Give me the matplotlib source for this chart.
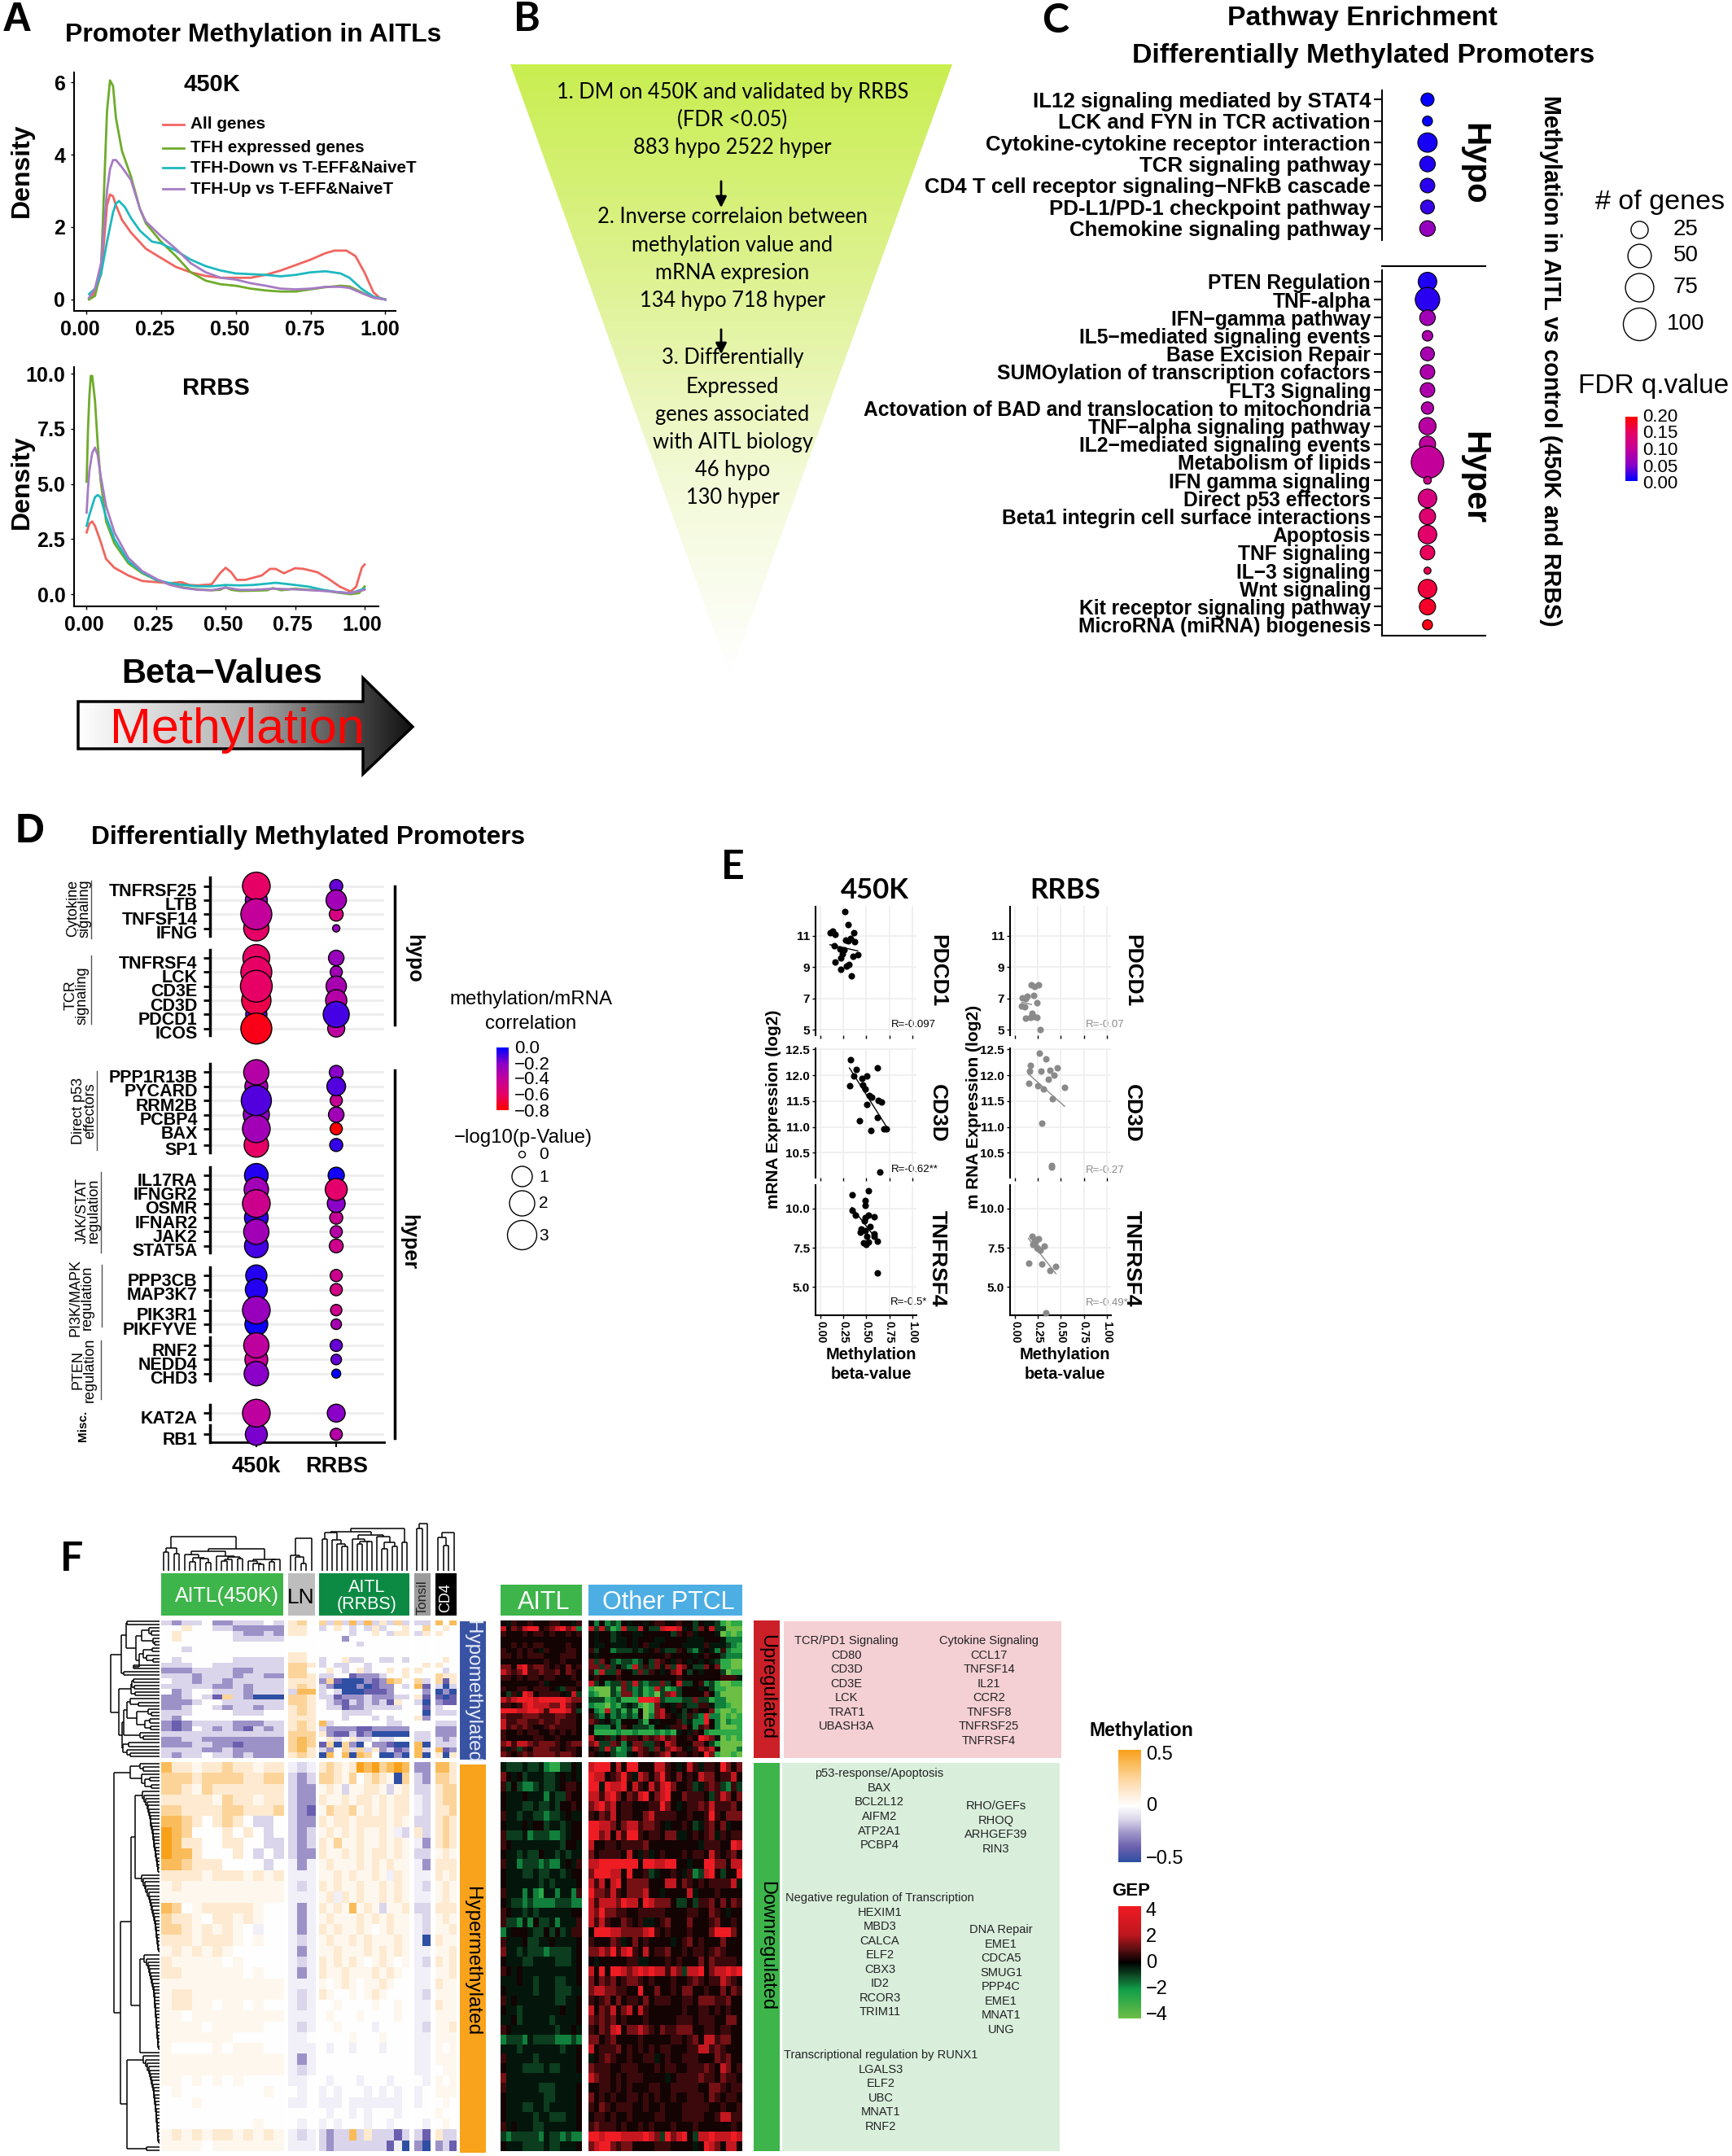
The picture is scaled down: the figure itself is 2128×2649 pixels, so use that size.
import numpy as np
import matplotlib
matplotlib.use("Agg")
import matplotlib.pyplot as plt
from matplotlib.colors import LinearSegmentedColormap
from matplotlib.patches import Polygon, Rectangle
from matplotlib.transforms import ScaledTranslation

W, H = 2128, 2649
ARIAL = ['Liberation Sans', 'DejaVu Sans']
LATO = ['Lato', 'DejaVu Sans']

# ---- panel A, density curves
a1_x_red = [.01,.03,.05,.06,.07,.08,.09,.10,.12,.15,.20,.25,.30,.35,.40,.45,.50,.55,.60,.65,.70,.75,.80,.83,.87,.90,.93,.96,.98,1]
a1_red = [.02,.2,.7,1.6,2.6,2.9,2.85,2.6,2.2,1.85,1.4,1.15,.9,.75,.65,.6,.6,.6,.68,.8,.95,1.1,1.28,1.35,1.35,1.2,.75,.2,.05,0]
a1_x_green = [.01,.03,.05,.06,.07,.08,.09,.10,.12,.15,.18,.20,.25,.30,.35,.40,.45,.50,.55,.60,.65,.70,.75,.80,.85,.88,.92,.96,1]
a1_green = [0,.1,.8,3,5.2,6.05,5.9,5,4.1,3.4,2.5,2.1,1.6,1.2,.75,.52,.42,.38,.3,.25,.22,.22,.28,.34,.38,.36,.2,.05,0]
a1_x_teal = [.01,.03,.05,.07,.09,.10,.11,.13,.15,.18,.22,.25,.30,.35,.40,.45,.50,.55,.60,.65,.70,.75,.80,.85,.88,.92,.96,1]
a1_teal = [.15,.3,.7,1.6,2.4,2.65,2.72,2.55,2.25,1.9,1.6,1.55,1.35,1.1,.92,.8,.72,.7,.68,.64,.68,.75,.78,.72,.6,.3,.08,0]
a1_x_purple = [.01,.03,.05,.06,.07,.08,.09,.10,.12,.15,.18,.20,.25,.30,.35,.40,.45,.50,.55,.60,.65,.70,.75,.80,.85,.88,.92,.96,1]
a1_purple = [.05,.3,1,2,3,3.6,3.85,3.85,3.65,3.3,2.5,2.15,1.75,1.4,1,.75,.6,.55,.45,.38,.3,.28,.3,.35,.35,.32,.18,.05,0]

a2_x_red = [0,.01,.02,.03,.05,.07,.10,.15,.20,.25,.30,.34,.37,.40,.45,.48,.50,.52,.54,.57,.60,.63,.66,.68,.71,.75,.78,.83,.87,.91,.95,.97,.99,1]
a2_red = [2.8,3.2,3.3,3.1,2.4,1.6,1.2,.85,.6,.55,.5,.55,.42,.4,.45,.95,1.2,1,.65,.65,.75,.85,1.15,1.15,.95,1.18,1.15,1,.7,.35,.12,.35,1.2,1.35]
a2_x_green = [0,.005,.01,.015,.02,.03,.04,.05,.07,.10,.15,.20,.25,.30,.35,.40,.45,.48,.50,.52,.55,.60,.65,.67,.70,.75,.80,.85,.90,.95,.98,1]
a2_green = [5.1,7.5,9,9.9,9.9,8.8,6.8,5.2,3.3,2.3,1.4,.95,.65,.45,.3,.22,.18,.2,.32,.2,.15,.16,.18,.28,.18,.25,.2,.18,.08,0,.05,.35]
a2_x_teal = [0,.01,.02,.03,.04,.05,.07,.10,.15,.20,.25,.30,.35,.40,.45,.50,.55,.60,.65,.68,.75,.80,.85,.90,.95,1]
a2_teal = [3.1,3.6,4,4.4,4.5,4.4,3.5,2.5,1.5,1,.65,.5,.42,.36,.36,.42,.4,.42,.48,.52,.42,.34,.2,.1,.05,.25]
a2_x_purple = [0,.005,.01,.02,.03,.04,.05,.07,.10,.15,.20,.25,.30,.35,.40,.45,.50,.55,.60,.67,.75,.85,.95,1]
a2_purple = [3.7,4.8,5.6,6.4,6.65,6.3,5.4,4,2.8,1.65,1.05,.7,.42,.28,.2,.18,.3,.2,.2,.25,.22,.15,.05,.2]
a_names = ['All genes', 'TFH expressed genes', 'TFH-Down vs T-EFF&NaiveT', 'TFH-Up vs T-EFF&NaiveT']
a_colors = ['#F0655F', '#6FAB2B', '#1DB9BF', '#A67BC4']

# ---- panel B, funnel text
b_lines = ['1. DM on 450K and validated by RRBS', '(FDR <0.05)', '883 hypo 2522 hyper',
           '2. Inverse correlaion between', 'methylation value and', 'mRNA expresion', '134 hypo 718 hyper',
           '3. Differentially', 'Expressed', 'genes associated', 'with AITL biology', '46 hypo', '130 hyper']
b_line_y = [113, 147, 181, 267, 301, 335, 370, 440, 475, 509, 543, 577, 611]

# ---- panel C, pathway bubbles
c_hypo = ['IL12 signaling mediated by STAT4', 'LCK and FYN in TCR activation', 'Cytokine-cytokine receptor interaction',
          'TCR signaling pathway', 'CD4 T cell receptor signaling\u2212NFkB cascade', 'PD-L1/PD-1 checkpoint pathway',
          'Chemokine signaling pathway']
c_hypo_genes = [13, 6, 33, 20, 17, 15, 20]
c_hypo_fdr = [.002, .003, .008, .012, .016, .02, .06]
c_hyper = ['PTEN Regulation', 'TNF-alpha', 'IFN\u2212gamma pathway', 'IL5\u2212mediated signaling events', 'Base Excision Repair',
           'SUMOylation of transcription cofactors', 'FLT3 Signaling', 'Actovation of BAD and translocation to mitochondria',
           'TNF\u2212alpha signaling pathway', 'IL2\u2212mediated signaling events', 'Metabolism of lipids', 'IFN gamma signaling',
           'Direct p53 effectors', 'Beta1 integrin cell surface interactions', 'Apoptosis', 'TNF signaling', 'IL\u22123 signaling',
           'Wnt signaling', 'Kit receptor signaling pathway', 'MicroRNA (miRNA) biogenesis']
c_hyper_genes = [30, 55, 20, 7, 15, 17, 17, 11, 25, 22, 100, 2, 30, 22, 30, 17, 1, 30, 22, 6]
c_hyper_fdr = [.012, .015, .07, .08, .075, .08, .08, .085, .09, .095, .10, .11, .125, .14, .145, .155, .16, .17, .18, .19]

# ---- panel D, gene bubbles
d_genes = ['TNFRSF25', 'LTB', 'TNFSF14', 'IFNG', 'TNFRSF4', 'LCK', 'CD3E', 'CD3D', 'PDCD1', 'ICOS',
           'PPP1R13B', 'PYCARD', 'RRM2B', 'PCBP4', 'BAX', 'SP1', 'IL17RA', 'IFNGR2', 'OSMR', 'IFNAR2', 'JAK2', 'STAT5A',
           'PPP3CB', 'MAP3K7', 'PIK3R1', 'PIKFYVE', 'RNF2', 'NEDD4', 'CHD3', 'KAT2A', 'RB1']
d_450k_p = [2.6,1.33,3.4,2,2.4,3.4,3.6,3,1.17,3.4,2,1.5,3.2,2.2,2.6,1.83,1.67,1.83,2.6,1.67,2,1.67,1.17,1.33,2.6,1.5,2,1.5,1.83,2.6,1.33]
d_450k_r = [-.6,-.25,-.4,-.6,-.6,-.6,-.6,-.65,-.15,-.75,-.35,-.3,-.12,-.22,-.28,-.6,-.05,-.28,-.45,-.07,-.28,-.1,-.05,-.05,-.25,-.02,-.38,-.42,-.2,-.38,-.18]
d_rrbs_p = [.47,1,.53,.06,.65,.41,1,1.17,2.2,.76,.53,.88,.41,.65,.41,.47,.7,1.33,.82,.47,.41,.53,.41,.41,.35,.29,.41,.29,.18,.82,.41]
d_rrbs_r = [-.15,-.28,-.5,-.25,-.25,-.28,-.3,-.35,-.1,-.38,-.2,-.12,-.42,-.28,-.8,-.08,-.03,-.58,-.2,-.42,-.35,-.45,-.45,-.48,-.45,-.3,-.15,-.15,0,-.2,-.35]
d_rows = [0,1,2,3,5.1,6.1,7.1,8.1,9.1,10.1,13.2,14.2,15.2,16.2,17.2,18.35,20.5,21.5,22.5,23.5,24.5,25.5,27.6,28.6,30.05,31.05,32.55,33.55,34.55,37.35,38.85]

# ---- panel E, scatter points
e1_x = [.269,.297,.104,.130,.158,.367,.272,.326,.304,.373,.149,.209,.256,.411,.351,.241,.222,.158,.310,.285,.225,.335]
e1_y = [12.52,11.72,11.18,11.28,11.07,11.18,10.70,10.84,10.65,10.61,10.38,10.15,10.10,9.78,9.68,9.85,9.57,9.34,9.18,9.06,8.83,8.42]
e2_x = [.326,.392,.361,.320,.620,.503,.456,.465,.484,.532,.563,.627,.668,.506,.620,.424,.554,.696,.722,.646]
e2_y = [12.30,12.11,11.98,11.79,12.14,11.99,11.94,11.81,11.74,11.61,11.57,11.52,11.49,11.43,11.18,11.12,10.93,10.96,10.96,10.13]
e3_x = [.345,.525,.487,.491,.342,.380,.484,.519,.589,.475,.538,.443,.437,.491,.585,.585,.506,.468,.494,.522,.623,.620]
e3_y = [10.89,11.15,10.53,10.21,9.90,9.59,9.43,9.57,9.47,9.23,8.83,8.71,8.49,8.59,8.40,8.23,8.23,7.80,7.73,7.85,7.92,5.89]
e4_x = [.174,.212,.253,.079,.133,.117,.203,.073,.108,.237,.117,.171,.190,.206,.241,.272]
e4_y = [7.84,7.77,7.84,7.03,7.12,6.98,7.21,6.54,6.47,6.72,5.73,5.80,6.05,5.85,5.80,5.02]
e5_x = [.266,.335,.168,.158,.285,.380,.462,.424,.361,.146,.244,.307,.544,.408,.288,.402,.402]
e5_y = [12.42,12.32,12.19,12.08,12.08,12.09,12.15,12.0,11.93,11.84,11.80,11.74,11.76,11.55,11.07,10.26,10.23]
e6_x = [.190,.253,.218,.196,.237,.272,.323,.146,.291,.383,.443,.339,.231,.212,.250]
e6_y = [8.23,8.09,7.85,7.73,7.51,7.32,7.58,6.53,6.46,6.05,6.32,3.35,8.04,7.97,7.44]
e_fit_x = [[.104,.405], [.316,.722], [.342,.627], [.076,.18], [.149,.541], [.146,.446]]
e_fit_y = [[10.42,10.03], [12.14,11.0], [10.07,7.92], [6.75,6.61], [12.02,11.40], [8.09,5.84]]
e_r = ['R=-0.097', 'R=-0.62**', 'R=-0.5*', 'R=-0.07', 'R=-0.27', 'R=-0.49*']

# ---- panel F, methylation heat map (levels read by eye, c/l are faint cream/lavender)
hypo_450k = ["323342233343","445443322222","454444432232","454444433333","444444444444","443444444444","444444444444",
             "434444433333","333443333333","222333322333","333233323322","433233233333","333332232333","423443332333",
             "223431632000","222344333333","223443233233","333444433344","324444444444","212333322233","212432321323",
             "333333333333","223322222222","222332212222","333322322222","323343323222"]
hypo_lnode = ["564","554","554","444","444","444","554","554","665","664","665","555","565","377","665","665","565","565",
              "555","565","565","666","676","676","675","565"]
hypo_rrbs = ["636373735363","345434353445","444434454355","444244444444","444443444444","444444444444","444444444444",
             "344533443343","343344344444","454345344545","334412223445","261000212764","320002012243","343000111244",
             "331222322233","432132323154","433122333334","444333344444","444344434344","734444444334","322221122222",
             "521131200000","453453343344","160620422100","324636352312","074707640020"]
hypo_tonsil = ["33","46","35","44","44","44","44","44","45","54","44","63","71","42","51","30","41","40","52","44","44","33","33","70","73","70"]
hypo_cd4 = ["747","454","544","444","444","444","444","454","544","434","655","615","303","020","101","211","344","333","444","333","222","222","323","333","712","505"]

hyper_450k = ["755c55655c55","666566665566","665c65555555","55555c655c55","665555665556","776545654334","876444545434",
              "875544554433","877544454343","776555444434","5555c555c5c5","c5cccccccccc","cccccccccccc","764c55555c44",
              "655c455c5c44","665c5c5c4l44","555c555c4c44","c5c5c5c44444","5ccccc4c4444","55cccccc4c44","cccccccccccc",
              "c55ccccccccc","c55cc4cc4c44","cc4ccccccccc","cccc4ccccc44","ccccccc44444","c4444c4ccc44","cccccccccccc",
              "cccccccccccc","cc4c4c4c4444","4c44444444c4","444c44444444","444444444444","444444444c44","c5c5c55c5c5c",
              "cccc4ccccccc"]
hyper_lnode = ["l3l","323","322","322","321","322","323","323","322","l2l","lll","l3l","lll","l2l","l2l","l2l","l3l","l2l",
               "l3l","l2l","lll","l3l","l3l","lll","l3l","ll4","lll","l2l","l3l","ll4","4l4","ll4","444","4l4","l3l","lll"]
hyper_rrbs = ["565c58786787","665c64565c06","c5c3cc55c3c5","5cc5c55c5c55","c6556c5c5c55","5c55c5555c5c","c5c5c5cc5cl3",
              "5c6cc5cc5c5c","5cc5c5c55c5c","c5ccc5c5c5cc","cc5c5cc5cl5c","5c5cc5cc5c5c","c5l5c5cc5c5c","5c5c7c5c3cc5",
              "c5ccc5c5c5cc","5c5cc5c4c5cc","c5cc5c5ccc5c","cc5ccc5c5c5c","5c5c5c4c5c4c","5cc5ccc5c5c4","c4c5c4cc5c44",
              "5c44c4c5c444","44c4444c44c4","4c444c4444c4","44c4444l4444","4444c444c444","4l44l444l444","444444444444",
              "444444444444","4l444l444l44","l4l444l4l4l4","lll4lllllll4","4l44l4l444l4","l4l444l44l44","323373533313",
              "3233333331l0"]
hyper_tonsil = ["22","32","33","l3","l3","33","53","l2","33","l2","ll","l3","ll","33","l3","l3","l0","ll","l3","ll","ll","l3",
                "ll","ll","l3","ll","ll","ll","ll","4l","l4","l4","44","4l","31","20"]
hyper_cd4 = ["775","665","566","566","556","565","565","565","c5c","555","5c5","c5c","c5c","555","c5c","cc5","5cc","cc5",
             "5c5","cc5","5cc","ccc","5cc","ccc","cc5","ccc","c4c","ccc","4cc","c4c","ccc","4c4","c44","4c4","533","231"]

# ---- panel F, expression heat map (levels 0 green ... 9 red)
gep_up_aitl = ["546556555665546","857689956789782","655565665655656","555555555555555","556565665555655","655656546555665",
               "665656665556665","555555556556555","775896776565756","876796676675765","665656656655565","555555564555556",
               "655665666543665","536498566665483","878999899999877","665689888779765","999889986999863","766677766677665",
               "866776676676665","867676556766665","655656655656565","655555665565555","786887677765677","646365777665665",
               "765676777767765"]
gep_up_ptcl = ["5252325455456655655354431011","8383128338533899845375833000","5455345544555553656455540101",
               "5455344545554455554445554222","5445444545644555544446444321","6355233343456433653245426211",
               "5455555555555565555456553222","7375323323537654654545431100","7737353283637473875337571100",
               "6283375537365457853545553011","5655565555555555655555556664","8352337383233735833562310011",
               "1000317323128312355545311000","2100327723120378355557520000","3331231119998322233733122000",
               "2110213431017454643366422100","5218231315017854535655710010","6324232325027865436329220101",
               "7645325553154555634229520211","5222426533325546675267520001","5111121121112121454652111111",
               "8546357665767867556598740101","7833762477336587555775310000","5638312387637478754687850002",
               "6545322457656785665659710010"]
gep_dn_aitl = ["433343342113354","754534443345454","635322343345665","544454442433655","544433433435565","644344332334544",
               "544454553443455","633342333223455","654444444443554","544343354434344","644233323224546","544433433443455",
               "544444434344445","644424214424426","543323222233322","654434344444455","633242533424446","245554335353466",
               "644453344544445","744343332333345","544433444433345","654544444444445","444544344433445","544444344433344",
               "645444444433445","544344444445445","445344444344445","654444444434454","233324333322232","444344444443445",
               "644444344444445","544433334334445","744444444444444","644444433344445","544444443344445","544433443444445",
               "544444344333445","645444334444445","323333324332322","544433334334445"]
gep_dn_ptcl = ["8999585995558865458646659757","9885679648757965756587756685","9949889586586897556346763263",
               "8868975768957895576665368757","7897856655566975456676866675","6576856655786666556556965777",
               "9988757886776545565346757455","9978586996566577445656746566","8556656666755555555546665598",
               "7566665854645655565665865675","8899999995998899554559977588","7999885955634556546238953559",
               "8685895777755588576565666684","9776865777855455558455565555","8688879885987775335366757576",
               "8797766556666655556655765455","8686557656445675557555675565","5999887777896565556555799975",
               "6555764575655554567565557555","7787968965856675565665676555","5455555664455565655575766665",
               "8595998789898868738895788989","7576756776565556556765668765","7887766559557556577556557576",
               "6567575665756665566577766755","8576857858655555565566565655","7676756555655555666566655775",
               "6576895778765766777556656655","7756755556555556656758867755","8566675656565665556688676555",
               "4567655655664565566655576755","7666556665556566556667658756","8766565666555545666676657665",
               "5566565655566556666655776566","7565655665656556556665765665","6576566655655655566666556556",
               "5665655655556655566665568866","6766656556565556555655555565","9989998888987397895388988898",
               "7899767755556665555459875885"]

# dendrogram merge heights, in pixels above the heat map
den_450k = [42, [28, [23, 0, 0], [21, 0, 0]],
            [27, [24, [20, 0, [16, [11, 0, 0], [15, 0, [10, 0, 0]]]], [18, 0, [17, [14, [12, 0, 0], 0], [15, 0, 0]]]],
             [14, [12, 0, [9, 0, [8, 0, 0]]], [14, [11, 0, 0], 0]]]]
den_lnode = [40, [19, 0, [17, 0, [9, 0, 0]]], 0]
den_rrbs = [52, [48, [47, [39, 0, 0], [38, 0, [33, 0, [30, 0, 0]]]],
                 [44, [39, 0, [36, [33, 0, 0], [36, 0, 0]]], [42, 0, [35, [27, 0, 0], [30, 0, 0]]]]], [35, 0, 0]]
den_tonsil = [58, [52, 0, 0], 0]
den_cd4 = [47, [41, 0, [31, 0, 0]], 0]
den_hypo = [60, [47, [41, [40, 0, 0], [29, [22, [13, 0, [10, 0, 0]], [8, 0, [6, 0, 0]]],
                                        [25, [20, [9, 0, 0], [16, 0, [8, 0, 0]]], [32, 0, 0]]]], [44, 0, 0]],
            [50, [35, [34, [32, 0, 0], [31, 0, 0]], [30, 0, 0]],
             [46, [44, [40, [36, 0, [26, 0, 0]], [28, [14, 0, [10, 0, 0]], [18, [12, 0, 0], [11, 0, 0]]]], [24, 0, [20, 0, 0]]],
              [45, [38, 0, 0], [40, 0, [36, 0, 0]]]]]]
den_hyper_chain1 = [2, 2, 3, 3, 4, 5, 5, 6, 7, 7, 8, 8, 9, 10, 11, 11, 12, 13, 14, 15, 17, 19, 21]
den_hyper_chain2 = [1, 2, 2, 3, 3, 4, 4, 5, 5, 6, 7, 8, 9, 10, 11, 12, 13, 15, 17, 18, 20, 22]
den_hyper_chain3 = [1, 2, 2, 2, 3, 3, 3, 4, 4, 4, 5, 5, 5, 6, 6, 6, 7, 7, 8, 9, 10, 11, 12, 13, 14, 16, 19]
den_hyper_chain4 = [1, 2, 2, 2, 3, 3, 3, 4, 4, 4, 5, 5, 6, 6, 7, 7, 8, 9, 10, 11, 12, 13, 15, 17, 20]


def chain(heights):
    node = 0
    for h in heights:
        node = [h, 0, node]
    return node


den_hyper = [56, [36, [24, 0, [20, 0, 0]], [22, 0, [18, [12, 0, 0], [10, 0, 0]]]],
             [48, [35, [30, chain(den_hyper_chain1), chain(den_hyper_chain2)], [24, chain(den_hyper_chain3), 0]],
              [40, chain(den_hyper_chain4), [16, 0, 0]]]]

# ---- layout helpers
fig = plt.figure(figsize=(W / 100, H / 100), dpi=100, facecolor='white')
bg = fig.add_axes([0, 0, 1, 1])
bg.axis('off')


def axpx(l, t, r, b):
    return fig.add_axes([l / W, 1 - b / H, (r - l) / W, (b - t) / H], facecolor='none')


def txt(x, y, s, size, bold=False, fam=ARIAL, rot=0, color='black', ha='center', **kw):
    return bg.text(x, y, s, fontsize=size, fontweight='bold' if bold else 'normal', family=fam, rotation=rot,
                   color=color, ha=ha, va='center', **kw)


def shift_labels(labels, dx=0, dy=0):
    for lb in labels:
        lb.set_transform(lb.get_transform() + ScaledTranslation(dx / 100, -dy / 100, fig.dpi_scale_trans))


def px_area(d):
    return (np.asarray(d) * 0.72) ** 2


cmap_fdr = LinearSegmentedColormap.from_list('fdr', ['#0000FF', '#8A00C8', '#C4009A', '#E60066', '#FF0000'])
cmap_meth = LinearSegmentedColormap.from_list('meth', ['#2E4FA3', '#6A5FAE', '#9C92C8', '#DAD5EA', '#FFFFFF',
                                                       '#FEEBD2', '#FDD59C', '#FBBD5C', '#F9A01B'])
cmap_gep = LinearSegmentedColormap.from_list('gep', [(0, '#6CBE45'), (.25, '#12A04A'), (.38, '#0E4A25'), (.5, '#000000'),
                                                     (.62, '#5E0F12'), (.75, '#C0171F'), (1, '#F01C24')])

for x, y, s, fam in [(21, 25, 'A', ARIAL), (647, 24, 'B', LATO), (1297, 26, 'C', LATO), (37, 1022, 'D', ARIAL),
                     (900, 1065, 'E', LATO), (88, 1915, 'F', LATO)]:
    txt(x, y, s, 36, True, fam)

# ---- panel A
txt(311, 43, 'Promoter Methylation in AITLs', 23, True)


def density_axes(box, xlim, ylim, yticks, ylabels, dx):
    ax = axpx(*box)
    ax.set_xlim(*xlim)
    ax.set_ylim(*ylim)
    for s in ['top', 'right']:
        ax.spines[s].set_visible(False)
    for s in ['left', 'bottom']:
        ax.spines[s].set_linewidth(1.5)
    ax.set_xticks([0, .25, .5, .75, 1])
    ax.set_xticklabels(['0.00', '0.25', '0.50', '0.75', '1.00'], fontsize=18, fontweight='bold', family=ARIAL)
    ax.set_yticks(yticks)
    ax.set_yticklabels(ylabels, fontsize=18, fontweight='bold', family=ARIAL)
    ax.tick_params(length=3, width=1, pad=5)
    shift_labels(ax.get_xticklabels(), dx=dx)
    return ax


ax = density_axes((91.4, 89, 486, 382), (-.039, 1.034), (-.315, 6.27), [0, 2, 4, 6], ['0', '2', '4', '6'], -7)
for xs, ys, c in zip([a1_x_red, a1_x_green, a1_x_teal, a1_x_purple], [a1_red, a1_green, a1_teal, a1_purple], a_colors):
    ax.plot(xs, ys, color=c, lw=2)

ax = density_axes((91.4, 451, 465, 745), (-.044, 1.05), (-.55, 10.3), [0, 2.5, 5, 7.5, 10],
                  ['0.0', '2.5', '5.0', '7.5', '10.0'], -3)
for xs, ys, c in zip([a2_x_red, a2_x_green, a2_x_teal, a2_x_purple], [a2_red, a2_green, a2_teal, a2_purple], a_colors):
    ax.plot(xs, ys, color=c, lw=2)

txt(27, 209, 'Density', 23, True, rot=90)
txt(27, 592, 'Density', 23, True, rot=90)
txt(260, 104, '450K', 21, True)
txt(265, 477, 'RRBS', 21, True)
for yy, name, c in zip([153, 181.6, 206, 232], a_names, a_colors):
    bg.plot([200, 226], [yy, yy], color=c, lw=2)
    txt(234, yy, name, 14.9, True, ha='left')

txt(273, 828, 'Beta\u2212Values', 30, True)
arrow_pts = [(96, 862), (446, 862), (446, 833), (507, 893), (446, 951), (446, 920), (96, 920)]
im = bg.imshow(np.linspace(0, 1, 256).reshape(1, -1), extent=[96, 507, 951, 833], aspect='auto', zorder=1,
               cmap=LinearSegmentedColormap.from_list('arw', ['#FFFFFF', '#B0B0B0', '#111111']))
poly = Polygon(arrow_pts, closed=True, facecolor='none', edgecolor='black', lw=2.5, zorder=2, transform=bg.transData)
bg.add_patch(poly)
im.set_clip_path(poly)
txt(291, 897, 'Methylation', 44, color='#FF0000', zorder=3)

# ---- panel B
tri = Polygon([(627, 79), (1170, 79), (897, 830)], closed=True, facecolor='none', edgecolor='none', transform=bg.transData)
bg.add_patch(tri)
im = bg.imshow(np.linspace(0, 1, 256).reshape(-1, 1), extent=[627, 1170, 830, 79], aspect='auto', origin='upper', zorder=1,
               cmap=LinearSegmentedColormap.from_list('tri', ['#C9EE50', '#DDF28F', '#F2F9D5', '#FFFFFF']))
im.set_clip_path(tri)
for yy, s in zip(b_line_y, b_lines):
    txt(900, yy, s, 18.4, fam=LATO, zorder=3)
for y0, y1 in [(220, 258), (402, 438)]:
    bg.annotate('', xy=(886, y1), xytext=(886, y0), zorder=3,
                arrowprops=dict(arrowstyle='-|>', color='black', lw=2, mutation_scale=20))

# ---- panel C
txt(1674, 23, 'Pathway Enrichment', 24.3, True)
txt(1675, 69, 'Differentially Methylated Promoters', 24.3, True)


def gene_d(n):
    return np.sqrt(60 + 15.4 * np.asarray(n, float))


def pathway_axes(box, ylim, names, genes, fdr, size):
    ax = axpx(*box)
    ypos = np.arange(len(names))
    ax.set_xlim(0, 1)
    ax.set_ylim(*ylim)
    ax.set_xticks([])
    ax.set_yticks(ypos)
    ax.set_yticklabels(names, fontsize=size, fontweight='bold', family=ARIAL)
    ax.tick_params(length=7, width=1.5, pad=3)
    for s in ['top', 'right', 'bottom']:
        ax.spines[s].set_visible(False)
    ax.spines['left'].set_linewidth(1.5)
    ax.scatter(np.full(len(names), .44), ypos, s=px_area(gene_d(genes)), c=fdr, cmap=cmap_fdr, vmin=0, vmax=.2,
               edgecolors='black', linewidths=.8, clip_on=False, zorder=3)
    return ax


pathway_axes((1698, 111, 1825, 295), (6.54, -.43), c_hypo, c_hypo_genes, c_hypo_fdr, 18.6)
ax = pathway_axes((1698, 332, 1825, 781), (19.6, -.63), c_hyper, c_hyper_genes, c_hyper_fdr, 17.7)
ax.spines['bottom'].set_visible(True)
ax.spines['bottom'].set_linewidth(1.5)
bg.plot([1698, 1825], [327, 327], color='black', lw=1.5)

txt(1811, 201, 'Hypo', 29, True, rot=-90)
txt(1811, 587, 'Hyper', 29, True, rot=-90)
txt(1905, 443, 'Methylation in AITL vs control (450K and RRBS)', 20.7, True, rot=-90)

txt(2040, 249, '# of genes', 24.5)
for yy, n, lab in zip([282, 314, 353, 398], [25, 50, 75, 100], ['25', '50', '75', '100']):
    bg.scatter([2014], [yy], s=px_area(gene_d(n)), facecolors='white', edgecolors='black', linewidths=1, zorder=3)
    txt(2071, yy, lab, 20)
txt(2032, 474, 'FDR q.value', 24)
bg.imshow(np.linspace(1, 0, 128).reshape(-1, 1), extent=[1997, 2012, 591, 512], aspect='auto', cmap=cmap_fdr, zorder=2)
for yy, lab in zip([513, 533, 553.6, 574, 594], ['0.20', '0.15', '0.10', '0.05', '0.00']):
    txt(2018, yy, lab, 16, ha='left')

# ---- panel D
txt(378, 1029, 'Differentially Methylated Promoters', 22.8, True)
ax = axpx(258, 1078, 472, 1772)
ax.set_xlim(-.58, 1.6)
ax.set_ylim(39.41, -.61)
ax.set_xticks([0, 1])
ax.set_xticklabels(['450k', 'RRBS'], fontsize=19.5, fontweight='bold', family=ARIAL)
ax.set_yticks(d_rows)
ax.set_yticklabels(d_genes, fontsize=15.5, fontweight='bold', family=ARIAL)
ax.tick_params(axis='y', length=6, width=2, pad=5)
ax.tick_params(axis='x', length=4, width=1.5, pad=8)
shift_labels(ax.get_yticklabels(), dy=4.5)
for s in ['top', 'right', 'left']:
    ax.spines[s].set_visible(False)
ax.spines['bottom'].set_linewidth(2)
ax.hlines(d_rows, -.58, 1.6, color='#EDEDED', lw=2, zorder=1)
for y0, y1 in [(-.59, 3.53), (4.53, 10.56), (12.6, 18.9), (19.9, 26), (27, 29.1), (29.4, 31.56), (31.97, 35), (36.75, 37.8), (38.2, 39.41)]:
    ax.plot([-.58, -.58], [y0, y1], color='black', lw=2.5, clip_on=False, zorder=4)


def p_d(p):
    return np.interp(p, [0, 1, 2, 3, 4], [8, 25, 31, 36, 41])


for col, ps, rs in [(0, d_450k_p, d_450k_r), (1, d_rrbs_p, d_rrbs_r)]:
    order = np.argsort(ps)
    ax.scatter(np.full(len(order), col), np.array(d_rows)[order], s=px_area(p_d(np.array(ps)[order])),
               c=-np.array(rs)[order] / .8, cmap=cmap_fdr, vmin=0, vmax=1, edgecolors='black', linewidths=1,
               zorder=3, clip_on=False)

for x_line, y0, y1, x_t, y_t, s in [(112, 1082, 1153, 97, 1116, 'Cytokine\nsignaling'), (112, 1174, 1258, 94, 1223, 'TCR\nsignaling'),
                                    (119, 1316, 1413, 104, 1365, 'Direct p53\neffectors'), (124, 1440, 1539, 108, 1487, 'JAK/STAT\nregulation'),
                                    (125, 1554, 1630, 100, 1594, 'PI3K/MAPK\nregulation'), (124, 1647, 1719, 103, 1683, 'PTEN\nregulation')]:
    bg.plot([x_line, x_line], [y0, y1], color='#555555', lw=1)
    txt(x_t, y_t, s, 13, rot=90, linespacing=.8)
txt(102, 1752, 'Misc.', 11, True, rot=90)
bg.plot([485, 485], [1089, 1259], color='black', lw=2.5)
bg.plot([485, 485], [1315, 1767], color='black', lw=2.5)
txt(508, 1178, 'hypo', 18, True, rot=-90)
txt(502, 1526, 'hyper', 18, True, rot=-90)

txt(652, 1228, 'methylation/mRNA', 17.3)
txt(652, 1258, 'correlation', 17.3)
bg.imshow(np.linspace(0, 1, 128).reshape(-1, 1), extent=[610, 625, 1364, 1287], aspect='auto', cmap=cmap_fdr, zorder=2)
for yy, lab in zip([1289, 1308, 1327, 1347, 1366], ['0.0', '\u22120.2', '\u22120.4', '\u22120.6', '\u22120.8']):
    txt(632, yy, lab, 16, ha='left')
txt(643, 1398, '\u2212log10(p-Value)', 17.3)
for yy, p, lab in zip([1418, 1445, 1478, 1517], [0, 1, 2, 3], ['0', '1', '2', '3']):
    bg.scatter([641], [yy], s=px_area(p_d(p)), facecolors='white', edgecolors='black', linewidths=1, zorder=3)
    txt(668, yy + 1, lab, 15)

# ---- panel E
e_boxes = [(1113.5, 1272, (4.65, 12.87), [5, 7, 9, 11], ['5', '7', '9', '11']),
           (1288, 1447, (10.02, 12.52), [10.5, 11, 11.5, 12, 12.5], ['10.5', '11.0', '11.5', '12.0', '12.5']),
           (1456, 1616, (3.19, 11.5), [5, 7.5, 10], ['5.0', '7.5', '10.0'])]
e_xs = [e1_x, e2_x, e3_x, e4_x, e5_x, e6_x]
e_ys = [e1_y, e2_y, e3_y, e4_y, e5_y, e6_y]
e_gene = ['PDCD1', 'CD3D', 'TNFRSF4']
e_rpos = [(1122, 1259), (1124, 1437), (1117, 1600), (1358, 1259), (1358, 1438), (1360, 1601)]
for col, (left, right, color) in enumerate([(1002, 1126, 'black'), (1241, 1365, '#8A8A8A')]):
    for row, (top, bot, ylim, yt, yl) in enumerate(e_boxes):
        i = col * 3 + row
        ax = axpx(left, top, right, bot)
        ax.set_xlim(-.054, 1.047)
        ax.set_ylim(*ylim)
        ax.grid(True, color='#EEEEEE', lw=1.2)
        ax.set_axisbelow(True)
        ax.set_xticks([0, .25, .5, .75, 1])
        ax.set_yticks(yt)
        ax.set_yticklabels(yl, fontsize=11, fontweight='bold', family=ARIAL)
        for s in ['top', 'right']:
            ax.spines[s].set_visible(False)
        ax.spines['left'].set_linewidth(1.5)
        if row == 2:
            ax.spines['bottom'].set_linewidth(1.5)
            ax.set_xticklabels(['0.00', '0.25', '0.50', '0.75', '1.00'], rotation=-90, fontsize=10, fontweight='bold', family=ARIAL)
        else:
            ax.spines['bottom'].set_visible(False)
            ax.tick_params(axis='x', length=0, labelbottom=False)
        ax.tick_params(width=1, length=3, pad=2)
        ax.plot(e_fit_x[i], e_fit_y[i], color=color, lw=1)
        ax.scatter(e_xs[i], e_ys[i], s=34, color=color, linewidths=0, zorder=3, clip_on=False)
        txt(e_rpos[i][0], e_rpos[i][1], e_r[i], 9.5, color=color)
        txt(left + 150, (top + bot) / 2 + (10 if row == 2 else 0), e_gene[row], 19, True, rot=-90)

txt(950, 1363, 'mRNA Expression (log2)', 15, True, rot=90)
txt(1196, 1360, 'm RNA Expression (log2)', 15, True, rot=90)
txt(1075, 1094, '450K', 25, True, fam=LATO)
txt(1309, 1094, 'RRBS', 25, True, fam=LATO)
for xx in [1070, 1308]:
    txt(xx, 1665, 'Methylation', 14.5, True)
    txt(xx, 1689, 'beta-value', 14.5, True)


# ---- panel F
def levels(rows, table):
    n = max(len(r) for r in rows)
    return np.array([[table[c] for c in r.ljust(n, r[-1])] for r in rows], float)


meth_table = {str(i): (i - 4) / 8 for i in range(9)}
meth_table.update({'c': .045, 'l': -.045})
gep_table = dict(zip('0123456789', [-4, -2.6, -1.6, -.8, -.3, .2, .6, 1.2, 2.2, 4]))

meth_cols = [(197.5, 348), (353.5, 386.6), (392, 503), (509, 529), (535, 560.6)]
hypo_groups = [hypo_450k, hypo_lnode, hypo_rrbs, hypo_tonsil, hypo_cd4]
hyper_groups = [hyper_450k, hyper_lnode, hyper_rrbs, hyper_tonsil, hyper_cd4]
for (l, r), g1, g2 in zip(meth_cols, hypo_groups, hyper_groups):
    bg.imshow(levels(g1, meth_table), extent=[l, r, 2160, 1991], aspect='auto', cmap=cmap_meth, vmin=-.5, vmax=.5,
              interpolation='nearest', zorder=1)
    bg.imshow(levels(g2, meth_table), extent=[l, r, 2643, 2165], aspect='auto', cmap=cmap_meth, vmin=-.5, vmax=.5,
              interpolation='nearest', zorder=1)
for (l, r), up, dn in [((615, 715), gep_up_aitl, gep_dn_aitl), ((723, 912), gep_up_ptcl, gep_dn_ptcl)]:
    bg.imshow(levels(up, gep_table), extent=[l, r, 2159, 1991], aspect='auto', cmap=cmap_gep, vmin=-4, vmax=4,
              interpolation='nearest', zorder=1)
    bg.imshow(levels(dn, gep_table), extent=[l, r, 2643, 2165], aspect='auto', cmap=cmap_gep, vmin=-4, vmax=4,
              interpolation='nearest', zorder=1)

for x0, x1, y0, y1, c in [(197.5, 348, 1933, 1985, '#3DB54A'), (353.5, 386.6, 1933, 1985, '#BDBDBD'), (392, 503, 1933, 1985, '#0C8A43'),
                          (509, 529, 1933, 1985, '#9B9B9B'), (535, 560.6, 1933, 1985, '#000000'),
                          (615, 715, 1946.5, 1985, '#3DB54A'), (723, 912, 1946.5, 1985, '#4DAEE3'),
                          (564.5, 597, 1992, 2162, '#3953A4'), (564.5, 597, 2168, 2645, '#F9A21B'),
                          (926, 958, 1991, 2160, '#CB2027'), (963, 1304, 1992, 2160, '#F4CFD3'),
                          (926, 958, 2166, 2643, '#3DB54A'), (961, 1301.5, 2166, 2643, '#D9EFDC')]:
    bg.add_patch(Rectangle((x0, y0), x1 - x0, y1 - y0, facecolor=c, edgecolor='none', zorder=1))

txt(279, 1960.6, 'AITL(450K)', 18, color='white')
txt(370, 1963, 'LN', 19)
txt(450.6, 1950.6, 'AITL', 15.5, color='white')
txt(450.6, 1972, '(RRBS)', 15.5, color='white')
txt(519, 1963, 'Tonsil', 12, rot=90, color='#222222')
txt(548, 1963, 'CD4', 13, rot=90, color='white')
txt(668, 1969, 'AITL', 22, color='white')
txt(821, 1969, 'Other PTCL', 22, color='white')
txt(580, 2079, 'Hypomethylated', 17.5, rot=-90, color='#E8ECF8')
txt(580, 2410, 'Hypermethylated', 17.5, rot=-90)
txt(942, 2073, 'Upregulated', 17, rot=-90)
txt(942, 2391, 'Downregulated', 17, rot=-90)


def leaves(node):
    return 1 if node == 0 else leaves(node[1]) + leaves(node[2])


def draw_tree(tree, a0, a1, base, vertical_up=True, lw=1.1):
    step = (a1 - a0) / (leaves(tree) - 1)
    seq = [0]

    def seg(p0, h0, p1, h1):
        if vertical_up:
            bg.plot([p0, p1], [base - h0, base - h1], color='black', lw=lw, solid_capstyle='butt', zorder=2)
        else:
            bg.plot([base - h0, base - h1], [p0, p1], color='black', lw=lw, solid_capstyle='butt', zorder=2)

    def walk(node):
        if node == 0:
            seq[0] += 1
            return a0 + (seq[0] - 1) * step, 0
        pa, ha = walk(node[1])
        pb, hb = walk(node[2])
        seg(pa, ha, pa, node[0])
        seg(pb, hb, pb, node[0])
        seg(pa, node[0], pb, node[0])
        return (pa + pb) / 2, node[0]

    walk(tree)


draw_tree(den_450k, 200.7, 344, 1930)
draw_tree(den_lnode, 357, 382.7, 1930)
draw_tree(den_rrbs, 396, 500, 1930)
draw_tree(den_tonsil, 512.3, 525, 1930)
draw_tree(den_cd4, 538, 557.7, 1930)
draw_tree(den_hypo, 1992, 2158, 195.7, vertical_up=False)
draw_tree(den_hyper, 2167, 2642, 195.7, vertical_up=False)

f_blocks = [(1040, 2016, ['TCR/PD1 Signaling', 'CD80', 'CD3D', 'CD3E', 'LCK', 'TRAT1', 'UBASH3A']),
            (1215, 2016, ['Cytokine Signaling', 'CCL17', 'TNFSF14', 'IL21', 'CCR2', 'TNFSF8', 'TNFRSF25', 'TNFRSF4']),
            (1080.5, 2179.4, ['p53-response/Apoptosis', 'BAX', 'BCL2L12', 'AIFM2', 'ATP2A1', 'PCBP4']),
            (1224, 2219.4, ['RHO/GEFs', 'RHOQ', 'ARHGEF39', 'RIN3']),
            (1081, 2332, ['Negative regulation of Transcription', 'HEXIM1', 'MBD3', 'CALCA', 'ELF2', 'CBX3', 'ID2', 'RCOR3', 'TRIM11']),
            (1230, 2371, ['DNA Repair', 'EME1', 'CDCA5', 'SMUG1', 'PPP4C', 'EME1', 'MNAT1', 'UNG']),
            (1082, 2525, ['Transcriptional regulation by RUNX1', 'LGALS3', 'ELF2', 'UBC', 'MNAT1', 'RNF2'])]
for xx, y0, names in f_blocks:
    for k, s in enumerate(names):
        txt(xx, y0 + k * 17.55, s, 10.5, color='#222222', zorder=3)

txt(1402, 2127, 'Methylation', 16.7, True)
bg.imshow(np.linspace(.5, -.5, 128).reshape(-1, 1), extent=[1374, 1401.4, 2288, 2150], aspect='auto', cmap=cmap_meth,
          vmin=-.5, vmax=.5, zorder=2)
for yy, lab in zip([2156, 2219, 2283.5], ['0.5', '0', '\u22120.5']):
    txt(1408, yy, lab, 17, ha='left')
txt(1390, 2323.5, 'GEP', 16, True)
bg.imshow(np.linspace(4, -4, 128).reshape(-1, 1), extent=[1374, 1401.4, 2480, 2342], aspect='auto', cmap=cmap_gep,
          vmin=-4, vmax=4, zorder=2)
for yy, lab in zip([2348, 2380, 2412, 2444, 2475.5], ['4', '2', '0', '\u22122', '\u22124']):
    txt(1408, yy, lab, 17, ha='left')

bg.set_xlim(0, W)
bg.set_ylim(H, 0)
fig.savefig('out.png', dpi=100)
